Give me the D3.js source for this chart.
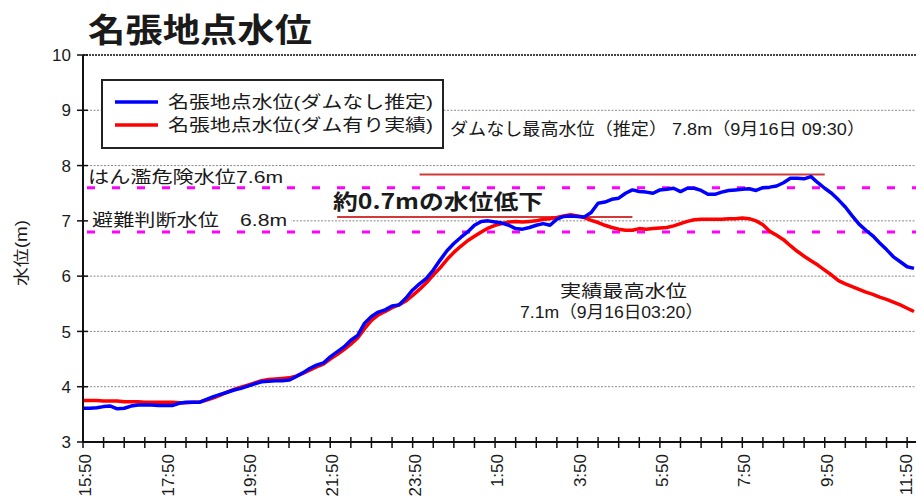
<!DOCTYPE html>
<html>
<head>
<meta charset="utf-8">
<script src="https://cdn.jsdelivr.net/npm/d3@7"></script>
<style>
  body { margin: 0; background: #fff; }
  text { font-family: "Liberation Sans", "Noto Sans CJK JP", sans-serif; fill: #1a1a1a; }
</style>
</head>
<body>
<svg id="chart" width="916" height="502"></svg>
<script>
// 10-minute readings from 15:50 (Sep 15) to 12:00 (Sep 16)
const startTime = "2013-09-15 15:50";
const stepMinutes = 10;

const noDamLevels = [
  3.61,3.61,3.62,3.64,3.65,3.60,3.61,3.65,3.67,3.67,
  3.67,3.66,3.66,3.66,3.70,3.72,3.72,3.72,3.77,3.82,
  3.86,3.90,3.94,3.97,4.01,4.05,4.09,4.10,4.11,4.11,
  4.12,4.18,4.25,4.33,4.39,4.43,4.54,4.63,4.72,4.84,
  4.93,5.15,5.27,5.35,5.39,5.46,5.48,5.60,5.75,5.86,
  5.96,6.11,6.29,6.46,6.59,6.70,6.80,6.92,6.99,7.00,
  6.98,6.96,6.92,6.86,6.85,6.88,6.92,6.95,6.92,7.03,
  7.08,7.09,7.08,7.07,7.15,7.32,7.34,7.39,7.41,7.50,
  7.56,7.53,7.52,7.50,7.56,7.57,7.59,7.53,7.59,7.59,
  7.55,7.48,7.48,7.52,7.55,7.56,7.57,7.58,7.55,7.60,
  7.61,7.63,7.69,7.77,7.77,7.76,7.80,7.69,7.59,7.50,
  7.38,7.25,7.09,6.94,6.83,6.73,6.60,6.48,6.35,6.26,
  6.17,6.14
];

const actualLevels = [
  3.75,3.75,3.75,3.74,3.74,3.74,3.73,3.73,3.73,3.72,
  3.72,3.72,3.72,3.72,3.71,3.71,3.72,3.72,3.76,3.80,
  3.85,3.90,3.95,3.99,4.03,4.07,4.11,4.13,4.14,4.15,
  4.16,4.19,4.24,4.30,4.36,4.41,4.50,4.58,4.67,4.77,
  4.88,5.05,5.20,5.30,5.36,5.43,5.48,5.55,5.65,5.76,
  5.88,6.02,6.15,6.30,6.43,6.54,6.64,6.72,6.80,6.87,
  6.92,6.95,6.98,6.99,6.98,6.99,7.00,7.03,7.04,7.06,
  7.09,7.11,7.09,7.06,7.01,6.97,6.92,6.88,6.85,6.83,
  6.83,6.86,6.85,6.86,6.87,6.88,6.91,6.95,6.99,7.02,
  7.03,7.03,7.03,7.03,7.04,7.04,7.05,7.04,7.00,6.93,
  6.81,6.74,6.66,6.55,6.45,6.36,6.28,6.20,6.11,6.02,
  5.92,5.86,5.81,5.76,5.71,5.67,5.62,5.58,5.53,5.48,
  5.42,5.36
];

const seriesNames = ["名張地点水位(ダムなし推定)", "名張地点水位(ダム有り実績)"];
const yTicks = [3, 4, 5, 6, 7, 8, 9, 10];
const xTickLabels = ["15:50", "17:50", "19:50", "21:50", "23:50", "1:50", "3:50", "5:50", "7:50", "9:50", "11:50"];
const thresholdValues = [7.6, 6.8];
const thresholdLabels = ["はん濫危険水位7.6m", "避難判断水位　6.8m"];
// peak marker spans: [from, to, level]
const peakSpans = [
  ["2013-09-16 00:00", "2013-09-16 09:50", 7.84],
  ["2013-09-15 22:00", "2013-09-16 05:10", 7.07]
];

const parse = d3.timeParse("%Y-%m-%d %H:%M");
const t0 = parse(startTime);
const timeAt = i => d3.timeMinute.offset(t0, i * stepMinutes);

const svg = d3.select("#chart");
const plotLeft = 83, plotRight = 914, plotTop = 55, plotBottom = 442;

const x = d3.scaleTime()
  .domain([t0, timeAt(noDamLevels.length - 1)])
  .range([plotLeft, plotRight]);
const y = d3.scaleLinear().domain([3, 10]).range([plotBottom, plotTop]);

// title
svg.append("text").attr("x", 88).attr("y", 42)
  .attr("textLength", 224).attr("lengthAdjust", "spacingAndGlyphs")
  .style("font-family", "Noto Sans CJK JP").style("font-size", "33px").style("font-weight", "bold")
  .text("名張地点水位");

// grid
svg.append("g").selectAll("line")
  .data(yTicks.filter(v => v > 3 && v < 10))
  .join("line")
  .attr("x1", plotLeft).attr("x2", 916)
  .attr("y1", d => y(d)).attr("y2", d => y(d))
  .attr("stroke", "#8a8a8a").attr("stroke-width", 1).attr("stroke-dasharray", "2,1.5");

svg.append("line")
  .attr("x1", plotLeft).attr("x2", 916).attr("y1", y(10)).attr("y2", y(10))
  .attr("stroke", "#444").attr("stroke-width", 2).attr("stroke-dasharray", "2,1");

// threshold lines
svg.append("g").selectAll("line")
  .data(thresholdValues)
  .join("line")
  .attr("x1", plotLeft + 4).attr("x2", 916)
  .attr("y1", d => y(d)).attr("y2", d => y(d))
  .attr("stroke", "#ff00ff").attr("stroke-width", 3).attr("stroke-dasharray", "8,17");

// peak spans
svg.append("g").selectAll("line")
  .data(peakSpans)
  .join("line")
  .attr("x1", d => x(parse(d[0]))).attr("x2", d => x(parse(d[1])))
  .attr("y1", d => y(d[2])).attr("y2", d => y(d[2]))
  .attr("stroke", "#d23a3a").attr("stroke-width", 2);

// white backing for evacuation label
svg.append("rect").attr("x", 86).attr("y", 210).attr("width", 205).attr("height", 18).attr("fill", "#fff");

// threshold labels
svg.append("text").attr("x", 88).attr("y", 183)
  .attr("textLength", 195).attr("lengthAdjust", "spacingAndGlyphs")
  .style("font-size", "17px").text(thresholdLabels[0]);
svg.append("text").attr("x", 92).attr("y", 226)
  .attr("textLength", 195).attr("lengthAdjust", "spacingAndGlyphs")
  .style("font-size", "17px").text(thresholdLabels[1]);

// series
const line = d3.line().x((d, i) => x(timeAt(i))).y(d => y(d));
svg.append("path").datum(actualLevels)
  .attr("d", line).attr("fill", "none").attr("stroke", "#ff0000").attr("stroke-width", 3.5)
  .attr("stroke-linejoin", "round");
svg.append("path").datum(noDamLevels)
  .attr("d", line).attr("fill", "none").attr("stroke", "#0000ff").attr("stroke-width", 3.5)
  .attr("stroke-linejoin", "round");

// annotations
svg.append("text").attr("x", 333).attr("y", 209)
  .attr("textLength", 210).attr("lengthAdjust", "spacingAndGlyphs")
  .style("font-family", "Noto Sans CJK JP").style("font-size", "21px").style("font-weight", "bold")
  .text("約0.7mの水位低下");
svg.append("text").attr("x", 450).attr("y", 135)
  .attr("textLength", 415).attr("lengthAdjust", "spacingAndGlyphs")
  .style("font-size", "17px").text("ダムなし最高水位（推定） 7.8m（9月16日 09:30）");
svg.append("text").attr("x", 560).attr("y", 297)
  .attr("textLength", 127).attr("lengthAdjust", "spacingAndGlyphs")
  .style("font-size", "17px").text("実績最高水位");
svg.append("text").attr("x", 520).attr("y", 318)
  .attr("textLength", 183).attr("lengthAdjust", "spacingAndGlyphs")
  .style("font-size", "17px").text("7.1m（9月16日03:20）");

// legend
const legend = svg.append("g");
legend.append("rect").attr("x", 102).attr("y", 80).attr("width", 341).attr("height", 68)
  .attr("fill", "#fff").attr("stroke", "#222").attr("stroke-width", 2);
const legendColors = ["#0000ff", "#ff0000"];
seriesNames.forEach((name, i) => {
  const ly = 102 + i * 23;
  legend.append("line").attr("x1", 115).attr("x2", 158).attr("y1", ly).attr("y2", ly)
    .attr("stroke", legendColors[i]).attr("stroke-width", 3.5);
  legend.append("text").attr("x", 168).attr("y", ly + 6)
    .attr("textLength", 265).attr("lengthAdjust", "spacingAndGlyphs")
    .style("font-size", "17px").text(name);
});

// y axis
const yAxis = svg.append("g");
yAxis.append("line").attr("x1", plotLeft).attr("x2", plotLeft).attr("y1", plotTop).attr("y2", plotBottom)
  .attr("stroke", "#111").attr("stroke-width", 2);
yAxis.selectAll("line.tick").data(yTicks).join("line").attr("class", "tick")
  .attr("x1", plotLeft - 6).attr("x2", plotLeft + 5).attr("y1", d => y(d)).attr("y2", d => y(d))
  .attr("stroke", "#111").attr("stroke-width", 1.5);
yAxis.selectAll("text").data(yTicks).join("text")
  .attr("x", 71).attr("y", d => y(d)).attr("dy", "0.36em").attr("text-anchor", "end")
  .style("font-size", "17px").text(d => d);

svg.append("text").attr("transform", "translate(27,253) rotate(-90)")
  .attr("text-anchor", "middle").attr("textLength", 66).attr("lengthAdjust", "spacingAndGlyphs")
  .style("font-size", "16px").text("水位(m)");

// x axis: ticks every 30 min, labels every 2 h, counted from the start time
const minorTicks = d3.range(0, noDamLevels.length, 3).map(timeAt);
const majorTicks = xTickLabels.map((lab, i) => ({ t: timeAt(i * 12), lab }));
const xAxis = svg.append("g");
xAxis.append("line").attr("x1", plotLeft).attr("x2", 916).attr("y1", plotBottom).attr("y2", plotBottom)
  .attr("stroke", "#111").attr("stroke-width", 2);
xAxis.selectAll("line.tick").data(minorTicks).join("line").attr("class", "tick")
  .attr("x1", d => x(d)).attr("x2", d => x(d)).attr("y1", plotBottom - 5).attr("y2", plotBottom + 6)
  .attr("stroke", "#111").attr("stroke-width", 1.5);
xAxis.selectAll("text").data(majorTicks).join("text")
  .attr("transform", (d, i) => `translate(${x(d.t) + (i === majorTicks.length - 1 ? -1 : 2)},454) rotate(-90)`)
  .attr("dy", "0.36em").attr("text-anchor", "end")
  .style("font-size", "17px").text(d => d.lab);
</script>
</body>
</html>
